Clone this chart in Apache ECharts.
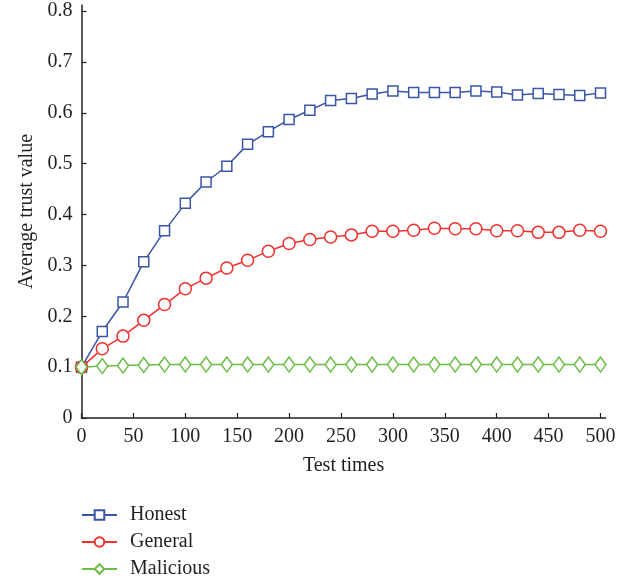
<!DOCTYPE html>
<html>
<head>
<meta charset="utf-8">
<script src="https://cdn.jsdelivr.net/npm/echarts@6/dist/echarts.min.js"></script>
<style>
  html, body { margin: 0; padding: 0; background: #fff; }
  #chart { width: 631px; height: 581px; }
</style>
</head>
<body>
<div id="chart"></div>
<script>
// Test iterations (x) and average trust per node class
const testTimes = [0, 20, 40, 60, 80, 100, 120, 140, 160, 180, 200, 220, 240, 260, 280, 300, 320, 340, 360, 380, 400, 420, 440, 460, 480, 500];
const honest = [0.100, 0.170, 0.228, 0.307, 0.368, 0.422, 0.464, 0.495, 0.538, 0.563, 0.587, 0.605, 0.624, 0.628, 0.637, 0.643, 0.640, 0.640, 0.640, 0.643, 0.641, 0.635, 0.638, 0.636, 0.634, 0.639];
const general = [0.100, 0.136, 0.161, 0.192, 0.223, 0.254, 0.275, 0.295, 0.310, 0.328, 0.343, 0.351, 0.356, 0.360, 0.367, 0.367, 0.369, 0.373, 0.372, 0.372, 0.368, 0.368, 0.365, 0.365, 0.369, 0.367];
const malicious = [0.100, 0.102, 0.103, 0.104, 0.105, 0.105, 0.105, 0.105, 0.105, 0.105, 0.105, 0.105, 0.105, 0.105, 0.105, 0.105, 0.105, 0.105, 0.105, 0.105, 0.105, 0.105, 0.105, 0.105, 0.105, 0.105];
const xTicks = [0, 50, 100, 150, 200, 250, 300, 350, 400, 450, 500];
const yTicks = [0, 0.1, 0.2, 0.3, 0.4, 0.5, 0.6, 0.7, 0.8];

const FONT = 'Liberation Serif';
const TEXT = '#231f20';
const FS = 20;

function pairs(ys) { return testTimes.map((x, i) => [x, ys[i]]); }

function lineSeries(name, ys, color, symbol, size) {
  return {
    name: name,
    type: 'line',
    data: pairs(ys),
    symbol: symbol,
    symbolSize: size,
    showAllSymbol: true,
    lineStyle: { color: color, width: 1.5 },
    itemStyle: { color: '#fff', borderColor: color, borderWidth: 1.5 },
    emphasis: { disabled: true },
    animation: false
  };
}

const chart = echarts.init(document.getElementById('chart'), null, { renderer: 'canvas' });
chart.setOption({
  backgroundColor: '#fff',
  animation: false,
  grid: { left: 81.5, right: 25.3, top: 5, bottom: 163, containLabel: false },
  xAxis: {
    type: 'value',
    min: 0,
    max: 505,
    name: 'Test times',
    nameLocation: 'middle',
    nameGap: 38,
    nameTextStyle: { fontFamily: FONT, fontSize: FS, color: TEXT },
    splitLine: { show: false },
    axisLine: { lineStyle: { color: TEXT, width: 1.5 } },
    axisTick: { inside: true, length: 5, customValues: xTicks, lineStyle: { color: TEXT, width: 1.2 } },
    axisLabel: { customValues: xTicks, margin: 9, fontFamily: FONT, fontSize: FS, color: TEXT }
  },
  yAxis: {
    type: 'value',
    min: 0,
    max: 0.812,
    name: 'Average trust value',
    nameLocation: 'middle',
    nameGap: 45,
    nameTextStyle: { fontFamily: FONT, fontSize: FS, color: TEXT },
    splitLine: { show: false },
    axisLine: { show: true, lineStyle: { color: TEXT, width: 1.5 } },
    axisTick: { show: true, inside: true, length: 5, customValues: yTicks, lineStyle: { color: TEXT, width: 1.2 } },
    axisLabel: {
      customValues: yTicks, margin: 9, fontFamily: FONT, fontSize: FS, color: TEXT,
      formatter: v => (v === 0 ? '0' : v.toFixed(1))
    }
  },
  legend: {
    orient: 'vertical',
    left: 81,
    top: 505,
    bottom: 0,
    itemWidth: 35,
    itemHeight: 12,
    itemGap: 7,
    padding: 0,
    textStyle: { fontFamily: FONT, fontSize: FS, color: TEXT, padding: [0, 0, 0, 8] },
    data: ['Honest', 'General', 'Malicious']
  },
  series: [
    lineSeries('Honest', honest, '#3a55a6', 'rect', 10),
    lineSeries('General', general, '#f0312e', 'circle', 12),
    lineSeries('Malicious', malicious, '#6abd45', 'diamond', [11, 15])
  ]
});
</script>
</body>
</html>
